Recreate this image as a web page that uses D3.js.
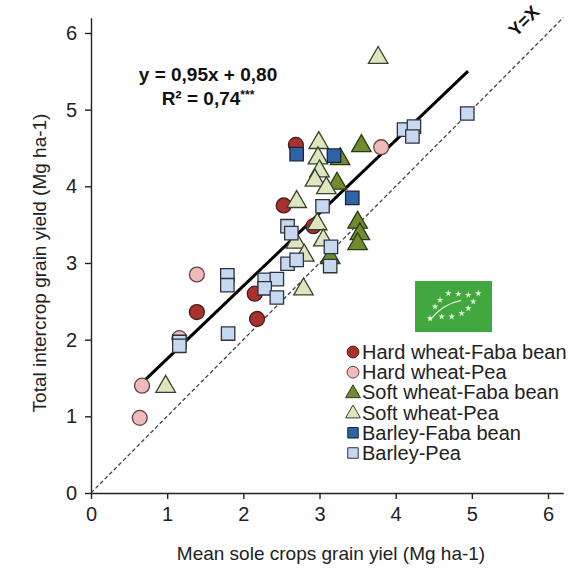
<!DOCTYPE html>
<html>
<head>
<meta charset="utf-8">
<script src="https://cdn.jsdelivr.net/npm/d3@7"></script>
<style>
  body { margin: 0; background: #fff; }
  svg { font-family: "Liberation Sans", Arial, sans-serif; }
</style>
</head>
<body>
<svg id="chart" width="577" height="572"></svg>
<script>
"use strict";

// series: [mean sole crop yield, intercrop yield]
const hardFaba = [[2.69, 4.54], [2.53, 3.75], [2.92, 3.48], [2.15, 2.60], [2.18, 2.27], [1.39, 2.36]];
const hardPea = [[3.81, 4.51], [1.39, 2.85], [1.16, 2.02], [0.67, 1.40], [0.64, 0.98]];
const softFaba = [[3.55, 4.54], [3.27, 4.37], [3.23, 4.05], [3.50, 3.54], [3.53, 3.39], [3.50, 3.26], [3.14, 3.08]];
const softPea = [[3.77, 5.69], [2.99, 4.58], [2.98, 4.38], [3.00, 4.21], [2.94, 4.09], [3.09, 3.99], [2.70, 3.81],
  [2.97, 3.52], [2.69, 3.28], [2.80, 3.11], [3.05, 3.31], [2.79, 2.67], [0.98, 1.40]];
const barleyFaba = [[2.70, 4.42], [3.19, 4.40], [3.43, 3.85]];
const barleyPea = [[3.04, 3.74], [2.58, 3.48], [2.63, 3.39], [3.15, 3.21], [3.14, 2.96], [2.58, 2.99], [2.70, 3.04],
  [2.28, 2.78], [2.44, 2.79], [2.28, 2.67], [2.44, 2.55], [1.79, 2.84], [1.79, 2.71], [1.80, 2.08],
  [1.16, 1.97], [1.16, 1.92], [4.11, 4.74], [4.24, 4.78], [4.22, 4.65], [4.94, 4.95]];

const seriesNames = ["Hard wheat-Faba bean", "Hard wheat-Pea", "Soft wheat-Faba bean", "Soft wheat-Pea", "Barley-Faba bean", "Barley-Pea"];
const seriesData = [hardFaba, hardPea, softFaba, softPea, barleyFaba, barleyPea];

const xTicks = [0, 1, 2, 3, 4, 5, 6];
const yTicks = [0, 1, 2, 3, 4, 5, 6];
const axisMax = 6.2;

// regression y = 0.95x + 0.80, drawn over x range
const fitSlope = 0.95;
const fitIntercept = 0.80;
const fitRange = [0.68, 4.95];

const shapes = ["circle", "circle", "triangle", "triangle", "square", "square"];
const fills = ["#a9322e", "#f1b9b7", "#6f8c2f", "#dde7bf", "#2f62a6", "#c6d9ef"];
const strokes = ["#4a1c1c", "#5e4545", "#2c3a14", "#3b3f2c", "#17263d", "#2b3242"];

const svg = d3.select("#chart");

const x = d3.scaleLinear().domain([0, axisMax]).range([91, 91 + axisMax * 76.17]);
const y = d3.scaleLinear().domain([0, axisMax]).range([493, 493 - axisMax * 76.67]);

// axes
const xAxis = svg.append("g")
  .attr("transform", `translate(0, ${y(0)})`)
  .call(d3.axisBottom(x).tickValues(xTicks).tickSize(6).tickSizeOuter(0).tickPadding(8).tickFormat(d3.format("d")));
const yAxis = svg.append("g")
  .attr("transform", `translate(${x(0)}, 0)`)
  .call(d3.axisLeft(y).tickValues(yTicks).tickSize(6).tickSizeOuter(0).tickPadding(8).tickFormat(d3.format("d")));

[xAxis, yAxis].forEach(a => {
  a.select(".domain").attr("stroke", "#222").attr("stroke-width", 1.4);
  a.selectAll(".tick line").attr("stroke", "#222").attr("stroke-width", 1.4);
  a.selectAll(".tick text")
    .attr("fill", "#222")
    .style("font-size", "20px")
    .style("font-family", "'Liberation Sans', Arial, sans-serif");
});

// 1:1 line
svg.append("line")
  .attr("x1", x(0)).attr("y1", y(0))
  .attr("x2", x(axisMax)).attr("y2", y(axisMax))
  .attr("stroke", "#444")
  .attr("stroke-width", 1.3)
  .attr("stroke-dasharray", "4,2.5");

svg.append("text")
  .attr("transform", `translate(${x(5.74)}, ${y(6.1)}) rotate(-45)`)
  .attr("text-anchor", "middle")
  .attr("font-weight", "bold")
  .style("font-size", "18px")
  .attr("fill", "#111")
  .text("Y=X");

// regression line
svg.append("line")
  .attr("x1", x(fitRange[0])).attr("y1", y(fitSlope * fitRange[0] + fitIntercept))
  .attr("x2", x(fitRange[1])).attr("y2", y(fitSlope * fitRange[1] + fitIntercept))
  .attr("stroke", "#000")
  .attr("stroke-width", 3);

// points
const markSize = { circle: 175, square: 180, triangle: 165 };
function symbolFor(shape) {
  if (shape === "circle") return d3.symbolCircle;
  if (shape === "square") return d3.symbolSquare;
  return d3.symbolTriangle;
}

const drawOrder = [0, 1, 2, 3, 4, 5];
drawOrder.forEach(i => {
  svg.append("g").selectAll("path")
    .data(seriesData[i])
    .enter()
    .append("path")
    .attr("d", d3.symbol().type(symbolFor(shapes[i])).size(markSize[shapes[i]]))
    .attr("transform", d => `translate(${x(d[0])}, ${y(d[1]) + (shapes[i] === "triangle" ? 1 : 0)})`)
    .attr("fill", fills[i])
    .attr("stroke", strokes[i])
    .attr("stroke-width", 1.3);
});

// equation
svg.append("text")
  .attr("x", 208).attr("y", 81)
  .attr("text-anchor", "middle")
  .attr("font-weight", "bold")
  .style("font-size", "19px")
  .attr("fill", "#111")
  .text("y = 0,95x + 0,80");
const r2 = svg.append("text")
  .attr("x", 208).attr("y", 105)
  .attr("text-anchor", "middle")
  .attr("font-weight", "bold")
  .style("font-size", "19px")
  .attr("fill", "#111");
r2.append("tspan").text("R² = 0,74");
r2.append("tspan").attr("dy", -6).style("font-size", "12px").text("***");

// axis titles
svg.append("text")
  .attr("x", 331).attr("y", 560)
  .attr("text-anchor", "middle")
  .style("font-size", "19px")
  .attr("fill", "#222")
  .text("Mean sole crops grain yiel (Mg ha-1)");
svg.append("text")
  .attr("transform", "translate(46, 263) rotate(-90)")
  .attr("text-anchor", "middle")
  .style("font-size", "19px")
  .attr("fill", "#222")
  .text("Total intercrop grain yield (Mg ha-1)");

// EU organic logo
const logo = { x: 415, y: 281, w: 77, h: 51 };
const logoStars = [[0.432, 0.241], [0.562, 0.255], [0.692, 0.275], [0.822, 0.241], [0.757, 0.406], [0.692, 0.535],
  [0.606, 0.633], [0.477, 0.700], [0.347, 0.700], [0.195, 0.731], [0.260, 0.504], [0.325, 0.373]];
const logoG = svg.append("g").attr("transform", `translate(${logo.x}, ${logo.y})`);
logoG.append("rect").attr("width", logo.w).attr("height", logo.h).attr("fill", "#41a83f");
logoG.append("path")
  .attr("d", `M${0.19 * logo.w},${0.77 * logo.h} Q${0.36 * logo.w},${0.45 * logo.h} ${0.60 * logo.w},${0.38 * logo.h}`)
  .attr("fill", "none").attr("stroke", "#e4f3de").attr("stroke-width", 1.2);
logoG.selectAll(".star")
  .data(logoStars)
  .enter()
  .append("path")
  .attr("d", d3.symbol().type(d3.symbolStar).size(14))
  .attr("transform", d => `translate(${d[0] * logo.w}, ${d[1] * logo.h})`)
  .attr("fill", "#e4f3de");

// legend
const legend = svg.append("g").attr("transform", "translate(353, 352)");
const legendSize = { circle: 110, square: 110, triangle: 95 };
seriesNames.forEach((name, i) => {
  const row = legend.append("g").attr("transform", `translate(0, ${i * 20.2})`);
  row.append("path")
    .attr("d", d3.symbol().type(symbolFor(shapes[i])).size(legendSize[shapes[i]]))
    .attr("transform", shapes[i] === "triangle" ? "translate(0,1)" : null)
    .attr("fill", fills[i])
    .attr("stroke", strokes[i])
    .attr("stroke-width", 1);
  row.append("text")
    .attr("x", 9).attr("y", 7)
    .style("font-size", "20px")
    .attr("fill", "#222")
    .text(name);
});
</script>
</body>
</html>
